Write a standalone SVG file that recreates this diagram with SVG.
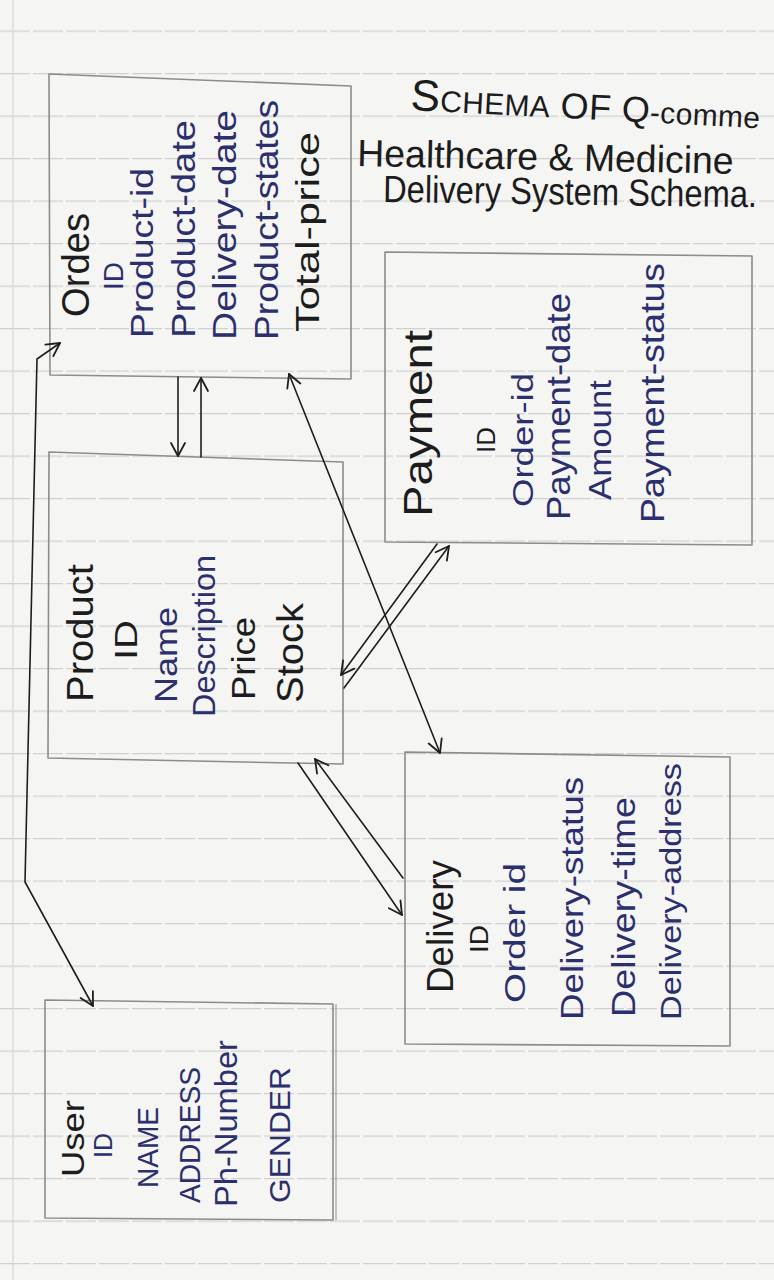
<svg xmlns="http://www.w3.org/2000/svg" width="774" height="1280" viewBox="0 0 774 1280">
<defs>
<marker id="ah" viewBox="0 0 18 18" refX="16" refY="9" markerWidth="18" markerHeight="18" markerUnits="userSpaceOnUse" orient="auto-start-reverse">
<path d="M3,2 L16,9 L3,16" fill="none" stroke="#1e1e1e" stroke-width="1.8" stroke-linecap="round" stroke-linejoin="round"/>
</marker>
<pattern id="rules" x="0" y="30.5" width="774" height="42.5" patternUnits="userSpaceOnUse">
<line x1="0" y1="0.6" x2="774" y2="0.6" stroke="#d0d0d0" stroke-width="1.1" stroke-dasharray="30 3"/>
</pattern>
</defs>
<style>
.box{fill:none;stroke:#8c8c8c;stroke-width:1.6;stroke-linejoin:round}
.t{font-family:"Liberation Sans","DejaVu Sans",sans-serif}
.k{fill:#1c1c1c}
.b{fill:#2b2f6e}
.c{fill:none;stroke:#1e1e1e;stroke-width:1.6;stroke-linecap:round}
</style>
<rect x="0" y="0" width="774" height="1280" fill="#f5f5f3"/>
<rect x="0" y="0" width="774" height="1280" fill="url(#rules)"/>
<line x1="13" y1="0" x2="13" y2="1280" stroke="#d6d6d6" stroke-width="1.2"/>

<g id="title" class="t k">
<text x="410" y="110" transform="rotate(3 410 110)" textLength="350"><tspan font-size="44">S</tspan><tspan font-size="30">CHEMA</tspan><tspan font-size="36"> OF Q</tspan><tspan font-size="30">-comme</tspan></text>
<text font-size="38" transform="translate(357,166) rotate(1.2) scale(0.985,1)">Healthcare &amp; Medicine</text>
<text font-size="38" transform="translate(383,202) rotate(0.8) scale(0.86,1)">Delivery System Schema.</text>
</g>

<g id="orders">
<polygon class="box" points="49,74 351,86 351,379 50,375"/>
<g class="t">
<text class="k" font-size="38" transform="translate(89,317) rotate(-90)" textLength="104" lengthAdjust="spacingAndGlyphs">Ordes</text>
<text class="b" font-size="28" transform="translate(123,290) rotate(-90)" textLength="28" lengthAdjust="spacingAndGlyphs">ID</text>
<text class="b" font-size="32" transform="translate(153,338) rotate(-90)" textLength="170" lengthAdjust="spacingAndGlyphs">Product-id</text>
<text class="b" font-size="34" transform="translate(195,338) rotate(-90)" textLength="218" lengthAdjust="spacingAndGlyphs">Product-date</text>
<text class="b" font-size="34" transform="translate(236,340) rotate(-90)" textLength="230" lengthAdjust="spacingAndGlyphs">Delivery-date</text>
<text class="b" font-size="34" transform="translate(278,340) rotate(-90)" textLength="240" lengthAdjust="spacingAndGlyphs">Product-states</text>
<text class="k" font-size="34" transform="translate(319,332) rotate(-90)" textLength="200" lengthAdjust="spacingAndGlyphs">Total-price</text>
</g>
</g>

<g id="payment">
<polygon class="box" points="385,252 752,256 752,545 385,542"/>
<g class="t">
<text class="k" font-size="40" transform="translate(432,517) rotate(-90)" textLength="187" lengthAdjust="spacingAndGlyphs">Payment</text>
<text class="k" font-size="26" transform="translate(495,453) rotate(-90)" textLength="26" lengthAdjust="spacingAndGlyphs">ID</text>
<text class="b" font-size="30" transform="translate(533,507) rotate(-90)" textLength="134" lengthAdjust="spacingAndGlyphs">Order-id</text>
<text class="b" font-size="34" transform="translate(570,520) rotate(-90)" textLength="227" lengthAdjust="spacingAndGlyphs">Payment-date</text>
<text class="b" font-size="32" transform="translate(611,500) rotate(-90)" textLength="120" lengthAdjust="spacingAndGlyphs">Amount</text>
<text class="b" font-size="34" transform="translate(664,523) rotate(-90)" textLength="260" lengthAdjust="spacingAndGlyphs">Payment-status</text>
</g>
</g>

<g id="product">
<polygon class="box" points="49,452 343,462 343,764 48,758"/>
<g class="t">
<text class="k" font-size="36" transform="translate(93,702) rotate(-90)" textLength="138" lengthAdjust="spacingAndGlyphs">Product</text>
<text class="k" font-size="32" transform="translate(137,660) rotate(-90)" textLength="40" lengthAdjust="spacingAndGlyphs">ID</text>
<text class="b" font-size="32" transform="translate(177,703) rotate(-90)" textLength="96" lengthAdjust="spacingAndGlyphs">Name</text>
<text class="b" font-size="32" transform="translate(215,717) rotate(-90)" textLength="162" lengthAdjust="spacingAndGlyphs">Description</text>
<text class="k" font-size="34" transform="translate(255,700) rotate(-90)" textLength="83" lengthAdjust="spacingAndGlyphs">Price</text>
<text class="k" font-size="36" transform="translate(303,703) rotate(-90)" textLength="100" lengthAdjust="spacingAndGlyphs">Stock</text>
</g>
</g>

<g id="delivery">
<polygon class="box" points="405,752 730,757 730,1046 405,1044"/>
<g class="t">
<text class="k" font-size="36" transform="translate(453,993) rotate(-90)" textLength="133" lengthAdjust="spacingAndGlyphs">Delivery</text>
<text class="k" font-size="26" transform="translate(488,953) rotate(-90)" textLength="28" lengthAdjust="spacingAndGlyphs">ID</text>
<text class="b" font-size="30" transform="translate(525,1003) rotate(-90)" textLength="140" lengthAdjust="spacingAndGlyphs">Order id</text>
<text class="b" font-size="32" transform="translate(583,1020) rotate(-90)" textLength="243" lengthAdjust="spacingAndGlyphs">Delivery-status</text>
<text class="b" font-size="34" transform="translate(635,1017) rotate(-90)" textLength="220" lengthAdjust="spacingAndGlyphs">Delivery-time</text>
<text class="b" font-size="30" transform="translate(681,1020) rotate(-90)" textLength="257" lengthAdjust="spacingAndGlyphs">Delivery-address</text>
</g>
</g>

<g id="user">
<polygon class="box" points="45,1000 333,1004 333,1220 45,1218"/>
<line x1="336" y1="1004" x2="336" y2="1220" stroke="#a0a0a0" stroke-width="1.2"/>
<g class="t">
<text class="k" font-size="32" transform="translate(84,1177) rotate(-90)" textLength="77" lengthAdjust="spacingAndGlyphs">User</text>
<text class="b" font-size="26" transform="translate(112,1158) rotate(-90)" textLength="25" lengthAdjust="spacingAndGlyphs">ID</text>
<text class="b" font-size="30" transform="translate(158,1188) rotate(-90)" textLength="81" lengthAdjust="spacingAndGlyphs">NAME</text>
<text class="b" font-size="30" transform="translate(200,1203) rotate(-90)" textLength="136" lengthAdjust="spacingAndGlyphs">ADDRESS</text>
<text class="b" font-size="32" transform="translate(237,1207) rotate(-90)" textLength="167" lengthAdjust="spacingAndGlyphs">Ph-Number</text>
<text class="b" font-size="30" transform="translate(290,1203) rotate(-90)" textLength="136" lengthAdjust="spacingAndGlyphs">GENDER</text>
</g>
</g>

<g id="connectors">
<path class="c" d="M93,1006 L25,882 L37,359 L60,343" marker-start="url(#ah)" marker-end="url(#ah)"/>
<path class="c" d="M178,377 L178,456" marker-end="url(#ah)"/>
<path class="c" d="M201,457 L201,378" marker-end="url(#ah)"/>
<path class="c" d="M289,374 L440,753" marker-start="url(#ah)" marker-end="url(#ah)"/>
<path class="c" d="M437,544 L341,675" marker-end="url(#ah)"/>
<path class="c" d="M344,688 L449,546" marker-end="url(#ah)"/>
<path class="c" d="M298,763 L402,915" marker-end="url(#ah)"/>
<path class="c" d="M403,878 L315,759" marker-end="url(#ah)"/>
</g>
</svg>
